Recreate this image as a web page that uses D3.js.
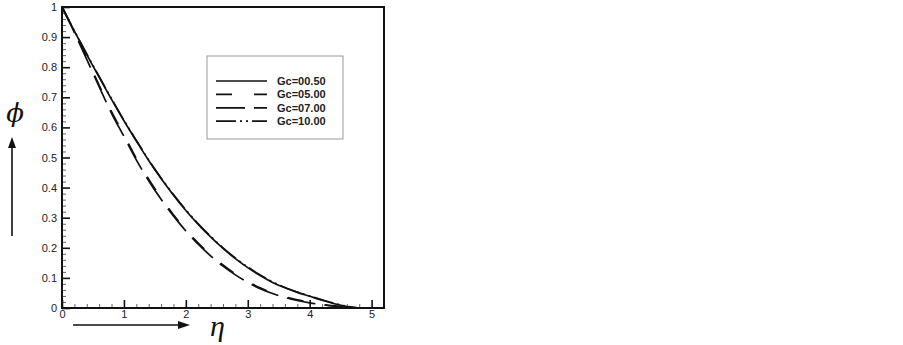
<!DOCTYPE html>
<html>
<head>
<meta charset="utf-8">
<script src="https://cdn.jsdelivr.net/npm/d3@7"></script>
<style>
  body { margin: 0; background: #fff; }
  svg { display: block; }
  .tick-label { font-family: "Liberation Sans", Arial, sans-serif; font-size: 11px; fill: #222; }
  .leg-text { font-family: "Liberation Sans", Arial, sans-serif; font-size: 11px; font-weight: bold; fill: #222; }
</style>
</head>
<body>
<svg id="chart"></svg>
<script>
const ETA = [0, 0.2, 0.4, 0.6, 0.8, 1.0, 1.2, 1.4, 1.6, 1.8, 2.0, 2.2, 2.4, 2.6, 2.8,
             3.0, 3.2, 3.4, 3.6, 3.8, 4.0, 4.2, 4.4, 4.6, 4.8];

const PHI_GC_050 = [1, 0.920, 0.842, 0.767, 0.693, 0.622, 0.555, 0.490, 0.430, 0.375, 0.324,
                    0.278, 0.236, 0.198, 0.164, 0.134, 0.108, 0.085, 0.067, 0.052, 0.039,
                    0.026, 0.014, 0.005, 0];
const PHI_GC_500 = [1, 0.918, 0.830, 0.740, 0.652, 0.575, 0.497, 0.428, 0.366, 0.310, 0.260,
                    0.216, 0.177, 0.143, 0.113, 0.088, 0.067, 0.050, 0.037, 0.027, 0.019,
                    0.012, 0.007, 0.003, 0];
const PHI_GC_700 = [1, 0.915, 0.826, 0.735, 0.647, 0.570, 0.492, 0.423, 0.361, 0.306, 0.256,
                    0.212, 0.173, 0.139, 0.110, 0.085, 0.064, 0.048, 0.035, 0.025, 0.017,
                    0.011, 0.006, 0.002, 0];
const PHI_GC_1000 = [1, 0.921, 0.844, 0.769, 0.695, 0.624, 0.557, 0.492, 0.432, 0.377, 0.326,
                     0.280, 0.238, 0.200, 0.166, 0.136, 0.110, 0.087, 0.068, 0.053, 0.040,
                     0.027, 0.015, 0.006, 0];

const SERIES_NAMES = ["Gc=00.50", "Gc=05.00", "Gc=07.00", "Gc=10.00"];
const SERIES_DASH  = [null, "16,22", "29,9", "20,4,2,4,2,4"];

const X_TICKS = [0, 1, 2, 3, 4, 5];
const X_TICK_LABELS = ["0", "1", "2", "3", "4", "5"];
const Y_TICKS = [0, 0.1, 0.2, 0.3, 0.4, 0.5, 0.6, 0.7, 0.8, 0.9, 1];
const Y_TICK_LABELS = ["0", "0.1", "0.2", "0.3", "0.4", "0.5", "0.6", "0.7", "0.8", "0.9", "1"];

const W = 903, H = 345;
const PLOT = { left: 62, right: 384, top: 7, bottom: 308 };

const svg = d3.select("#chart").attr("width", W).attr("height", H);
svg.append("rect").attr("width", W).attr("height", H).attr("fill", "#fff");

const x = d3.scaleLinear().domain([0, 5.2]).range([PLOT.left, PLOT.right]);
const y = d3.scaleLinear().domain([0, 1]).range([PLOT.bottom, PLOT.top]);

const minorX = d3.range(0, 5.2001, 0.2).filter(v => Math.abs(v - Math.round(v)) > 1e-6);
const minorY = d3.range(0, 1.0001, 0.02).filter(v => Math.abs(v * 10 - Math.round(v * 10)) > 1e-6);

// minor ticks (inward)
svg.append("g")
  .attr("transform", `translate(${PLOT.left},0)`)
  .call(d3.axisLeft(y).tickValues(minorY).tickSize(-4).tickFormat(""))
  .call(ax => ax.select(".domain").remove())
  .selectAll("line").attr("stroke", "#666");

svg.append("g")
  .attr("transform", `translate(0,${PLOT.bottom})`)
  .call(d3.axisBottom(x).tickValues(minorX).tickSize(-4).tickFormat(""))
  .call(ax => ax.select(".domain").remove())
  .selectAll("line").attr("stroke", "#666");

// major ticks + labels
svg.append("g")
  .attr("transform", `translate(${PLOT.left},0)`)
  .call(d3.axisLeft(y).tickValues(Y_TICKS).tickSize(-8).tickPadding(5)
    .tickFormat((d, i) => Y_TICK_LABELS[i]))
  .call(ax => ax.select(".domain").remove())
  .call(ax => ax.selectAll("line").attr("stroke", "#111").attr("stroke-width", 1.6))
  .selectAll("text").attr("class", "tick-label").attr("font-size", null).attr("font-family", null);

svg.append("g")
  .attr("transform", `translate(0,${PLOT.bottom})`)
  .call(d3.axisBottom(x).tickValues(X_TICKS).tickSize(-8).tickPadding(2)
    .tickFormat((d, i) => X_TICK_LABELS[i]))
  .call(ax => ax.select(".domain").remove())
  .call(ax => ax.selectAll("line").attr("stroke", "#111").attr("stroke-width", 1.6))
  .selectAll("text").attr("class", "tick-label").attr("font-size", null).attr("font-family", null);

// curves
const allSeries = [PHI_GC_050, PHI_GC_500, PHI_GC_700, PHI_GC_1000];
const line = d3.line()
  .x(d => x(d[0]))
  .y(d => y(d[1]))
  .curve(d3.curveMonotoneX);

svg.selectAll(".curve")
  .data(allSeries)
  .join("path")
    .attr("class", "curve")
    .attr("d", vals => line(ETA.map((e, i) => [e, vals[i]])))
    .attr("fill", "none")
    .attr("stroke", "#111")
    .attr("stroke-width", 1.7)
    .attr("stroke-dasharray", (d, i) => SERIES_DASH[i]);

// frame
svg.append("rect")
  .attr("x", PLOT.left).attr("y", PLOT.top)
  .attr("width", PLOT.right - PLOT.left).attr("height", PLOT.bottom - PLOT.top)
  .attr("fill", "none").attr("stroke", "#111").attr("stroke-width", 2);

// legend
const leg = svg.append("g");
leg.append("rect")
  .attr("x", 207).attr("y", 56).attr("width", 136).attr("height", 83)
  .attr("fill", "#fff").attr("stroke", "#999").attr("stroke-width", 1);

SERIES_NAMES.forEach((name, i) => {
  const ly = 81 + i * 13.4;
  leg.append("line")
    .attr("x1", 216).attr("x2", 267).attr("y1", ly).attr("y2", ly)
    .attr("stroke", "#111").attr("stroke-width", 1.7)
    .attr("stroke-dasharray", SERIES_DASH[i]);
  leg.append("text")
    .attr("class", "leg-text")
    .attr("x", 277).attr("y", ly + 4)
    .text(name);
});

// axis titles with arrows
svg.append("text")
  .attr("x", 15).attr("y", 122)
  .attr("text-anchor", "middle")
  .attr("font-family", "'DejaVu Serif', 'Liberation Serif', serif")
  .attr("font-style", "italic")
  .attr("font-size", 26)
  .attr("fill", "#111")
  .text("ϕ");

svg.append("line")
  .attr("x1", 12).attr("x2", 12).attr("y1", 236).attr("y2", 146)
  .attr("stroke", "#111").attr("stroke-width", 1.6);
svg.append("path")
  .attr("d", "M12,137 L8,148 L16,148 Z")
  .attr("fill", "#111");

svg.append("line")
  .attr("x1", 73).attr("x2", 179).attr("y1", 325).attr("y2", 325)
  .attr("stroke", "#111").attr("stroke-width", 1.6);
svg.append("path")
  .attr("d", "M190,325 L178,321 L178,329 Z")
  .attr("fill", "#111");

svg.append("text")
  .attr("x", 210).attr("y", 336)
  .attr("font-family", "'Liberation Serif', 'DejaVu Serif', serif")
  .attr("font-style", "italic")
  .attr("font-size", 30)
  .attr("fill", "#111")
  .text("η");
</script>
</body>
</html>
